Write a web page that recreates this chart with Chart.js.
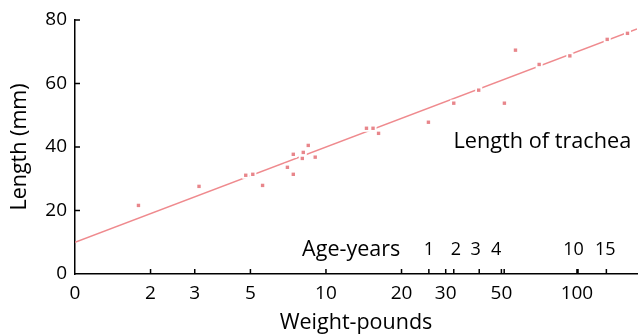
<!DOCTYPE html>
<html>
<head>
<meta charset="utf-8">
<script src="https://cdn.jsdelivr.net/npm/chart.js@4.4.0/dist/chart.umd.min.js"></script>
<style>
  html, body { margin: 0; padding: 0; background: #fff; }
</style>
</head>
<body>
<canvas id="grafico" width="642" height="334"></canvas>
<script>
// peso (libras) y longitud de la tráquea (mm) de cada ejemplar
const pesos = [1.79, 3.12, 4.79, 5.11, 5.59, 7.02, 7.41, 7.41, 8.05, 8.12, 8.5, 9.06,
               14.5, 15.4, 16.2, 25.6, 32.3, 40.6, 51.4, 56.9, 70.7, 93.7, 132, 159];
const longitudes = [21.6, 27.6, 31.1, 31.4, 27.9, 33.6, 37.7, 31.4, 36.4, 38.3, 40.5, 36.8,
                    45.9, 45.9, 44.3, 47.8, 53.8, 57.9, 53.8, 70.5, 66.0, 68.7, 73.9, 75.8];

// recta de ajuste (extremos)
const rectaPesos = [1, 173.5];
const rectaLong = [10, 77.2];

// ticks del eje x (escala logarítmica) y del eje y
const pesoTicks = [1, 2, 3, 5, 10, 20, 30, 50, 100];
const pesoEtiq = ["0", "2", "3", "5", "10", "20", "30", "50", "100"];
const longTicks = [0, 20, 40, 60, 80];

// edades: posición del tick (peso), posición de la etiqueta y texto
const edadPesos = [25.7, 32.3, 40.8, 51.3, 101, 131];
const edadEtiqPesos = [25.7, 32.9, 39.5, 47.7, 97, 129.7];
const edadTxt = ["1", "2", "3", "4", "10", "15"];

const FUENTE = '"Open Sans", sans-serif';
Chart.defaults.font.family = FUENTE;
Chart.defaults.color = "#000";

const puntos = pesos.map((p, i) => ({ x: p, y: longitudes[i] }));

// ticks hacia adentro + textos de edad y anotación
const marcas = {
  id: "marcas",
  afterDraw(chart) {
    const { ctx, scales: { x, y } } = chart;
    ctx.save();
    ctx.strokeStyle = "#000";
    ctx.lineWidth = 1.5;
    ctx.beginPath();
    [...pesoTicks.slice(1), ...edadPesos].forEach(v => {
      const px = x.getPixelForValue(v);
      ctx.moveTo(px, y.bottom);
      ctx.lineTo(px, y.bottom - 5);
    });
    longTicks.slice(1).forEach(v => {
      const py = y.getPixelForValue(v);
      ctx.moveTo(x.left, py);
      ctx.lineTo(x.left + 5, py);
    });
    ctx.stroke();

    ctx.fillStyle = "#000";
    ctx.textAlign = "center";
    ctx.textBaseline = "middle";
    const yEdad = y.getPixelForValue(7.56);
    ctx.font = "18px " + FUENTE;
    edadEtiqPesos.forEach((v, i) => ctx.fillText(edadTxt[i], x.getPixelForValue(v), yEdad));
    ctx.font = "21.5px " + FUENTE;
    ctx.fillText("Age-years", x.getPixelForValue(12.6), yEdad);
    ctx.font = "21.7px " + FUENTE;
    ctx.fillText("Length of trachea", x.getPixelForValue(72.8), y.getPixelForValue(41.5));
    ctx.restore();
  }
};

const ctx = document.querySelector("#grafico").getContext("2d");

new Chart(ctx, {
  type: "scatter",
  data: {
    datasets: [
      {
        type: "line",
        data: rectaPesos.map((p, i) => ({ x: p, y: rectaLong[i] })),
        borderColor: "#ef8a8e",
        borderWidth: 1.5,
        pointRadius: 0,
        order: 3
      },
      {
        // halo blanco que corta la recta junto a los puntos
        data: puntos,
        pointStyle: "rect",
        pointRadius: 5,
        backgroundColor: "#fff",
        borderWidth: 0,
        order: 2
      },
      {
        data: puntos,
        pointStyle: "rect",
        pointRadius: 2.4,
        backgroundColor: "#e8868b",
        borderWidth: 0,
        order: 1
      }
    ]
  },
  options: {
    responsive: false,
    animation: false,
    devicePixelRatio: 1,
    layout: { padding: { top: 20, right: 0, left: 0, bottom: 0 } },
    plugins: { legend: { display: false }, tooltip: { enabled: false } },
    scales: {
      x: {
        type: "logarithmic",
        min: 1,
        max: 173.5,
        grid: { display: false, drawTicks: false },
        border: { display: true, color: "#000", width: 1.5 },
        afterBuildTicks: s => { s.ticks = pesoTicks.map(v => ({ value: v })); },
        afterFit: s => { s.height = 60; },
        ticks: {
          autoSkip: false,
          maxRotation: 0,
          padding: 8,
          font: { size: 19 },
          callback: (v, i) => pesoEtiq[i]
        },
        title: {
          display: true,
          text: "Weight-pounds",
          font: { size: 21.5 },
          padding: { top: 0, bottom: -1.6 }
        }
      },
      y: {
        min: 0,
        max: 80,
        grid: { display: false, drawTicks: false },
        border: { display: true, color: "#000", width: 1.5 },
        afterBuildTicks: s => { s.ticks = longTicks.map(v => ({ value: v })); },
        afterFit: s => { s.width = 75; },
        ticks: { padding: 8, font: { size: 19 } },
        title: {
          display: true,
          text: "Length (mm)",
          font: { size: 21.5 },
          padding: { top: 6.5, bottom: 0 }
        }
      }
    }
  },
  plugins: [marcas]
});
</script>
</body>
</html>
